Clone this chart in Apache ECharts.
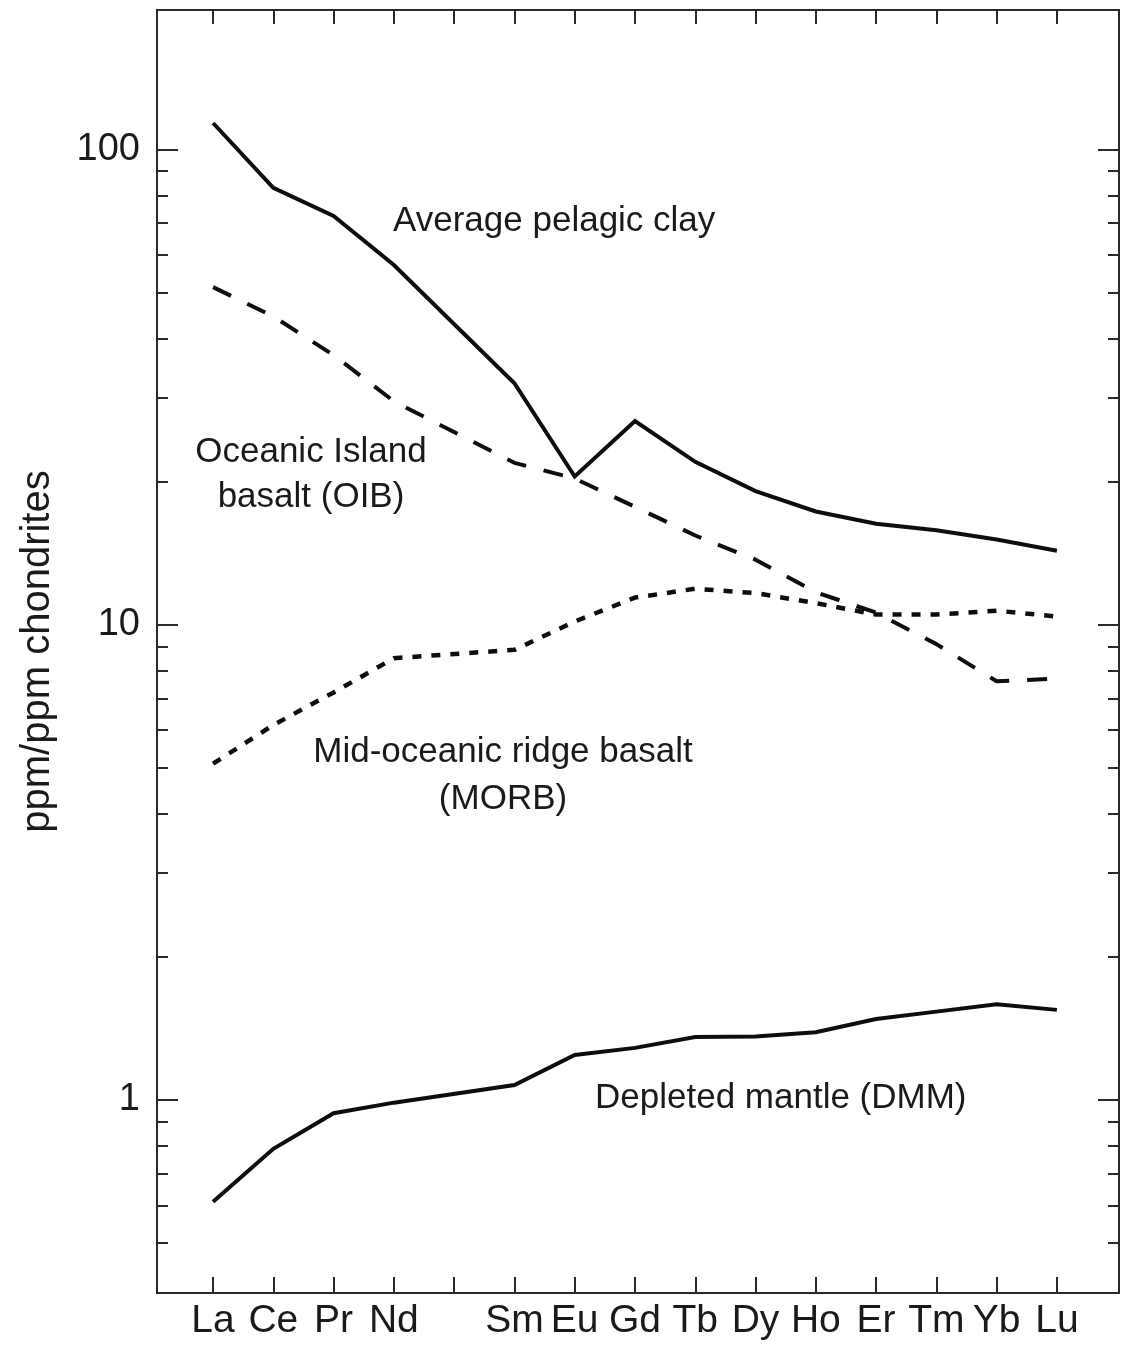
<!DOCTYPE html>
<html><head><meta charset="utf-8">
<script src="https://cdn.jsdelivr.net/npm/echarts@6/dist/echarts.min.js"></script>
<style>html,body{margin:0;padding:0;background:#fff}#c{width:1124px;height:1354px}</style>
</head><body><div id="c"></div>
<script>
// Chondrite-normalized REE patterns
const elements = ['La','Ce','Pr','Nd','Pm','Sm','Eu','Gd','Tb','Dy','Ho','Er','Tm','Yb','Lu'];
const pelagicClay = [113.6, 83.0, 72.4, 57.1, null, 32.2, 20.5, 26.8, 22.0, 19.1, 17.3, 16.3, 15.8, 15.1, 14.3];
const oib         = [51.3, 44.5, 36.9, 29.5, null, 21.9, 20.3, 17.7, 15.4, 13.7, 11.7, 10.6, 9.1, 7.6, 7.7];
const morb        = [5.1, 6.15, 7.2, 8.5, null, 8.85, 10.15, 11.4, 11.9, 11.65, 11.1, 10.5, 10.5, 10.7, 10.4];
const dmm         = [0.611, 0.789, 0.938, 0.987, null, 1.075, 1.243, 1.287, 1.357, 1.36, 1.388, 1.48, 1.534, 1.589, 1.547];
const yTickLabels = [1, 10, 100];
const yMinorTicks = [0.5, 0.6, 0.7, 0.8, 0.9, 2, 3, 4, 5, 6, 7, 8, 9, 20, 30, 40, 50, 60, 70, 80, 90];
const annotations = ['Average pelagic clay', 'Oceanic Island', 'basalt (OIB)', 'Mid-oceanic ridge basalt', '(MORB)', 'Depleted mantle (DMM)'];
const yTitle = 'ppm/ppm chondrites';

const FONT = "'Liberation Sans', Arial, Helvetica, sans-serif";
const INK = '#1a1a1a';
const FRAME = '#2a2a2a';

const toPoints = arr => arr.map((v, i) => [i + 1, v]).filter(p => p[1] != null);
const xTickValues = elements.map((e, i) => i + 1);
const xLabelValues = elements.map((e, i) => i + 1).filter(v => elements[v - 1] !== 'Pm');

const xMin = 0.07, xMax = 16.03;
const yMin = 0.3925, yMax = 196.4;

const chart = echarts.init(document.getElementById('c'), null, {renderer: 'canvas'});

const axisLine = {show: true, lineStyle: {color: FRAME, width: 2}};
const xBase = {type: 'value', min: xMin, max: xMax, splitLine: {show: false}, axisLine, minorTick: {show: false}};
const yBase = {type: 'log', logBase: 10, min: yMin, max: yMax, splitLine: {show: false}, axisLine, minorTick: {show: false}};
const tickStyle = {color: FRAME, width: 2};

const option = {
  animation: false,
  backgroundColor: '#fff',
  grid: {left: 157, top: 10, right: 5, bottom: 61, containLabel: false, outerBoundsMode: 'none'},
  xAxis: [
    Object.assign({}, xBase, {
      position: 'bottom',
      axisTick: {show: true, inside: true, length: 16, customValues: xTickValues, lineStyle: tickStyle},
      axisLabel: {show: true, customValues: xLabelValues, fontSize: 39, fontFamily: FONT, color: INK, margin: 9,
        formatter: v => elements[Math.round(v) - 1]}
    }),
    Object.assign({}, xBase, {
      position: 'top',
      axisTick: {show: true, inside: true, length: 14, customValues: xTickValues, lineStyle: tickStyle},
      axisLabel: {show: false}
    })
  ],
  yAxis: [
    Object.assign({}, yBase, {
      position: 'left',
      axisTick: {show: true, inside: true, length: 21, customValues: yTickLabels, lineStyle: tickStyle},
      axisLabel: {show: true, customValues: yTickLabels, fontSize: 38, fontFamily: FONT, color: INK, margin: 17,
        formatter: v => String(v)},
      name: yTitle, nameLocation: 'middle', nameRotate: 90, nameGap: 99,
      nameTextStyle: {fontSize: 40, fontFamily: FONT, color: INK}
    }),
    Object.assign({}, yBase, {
      position: 'left',
      axisTick: {show: true, inside: true, length: 11, customValues: yMinorTicks, lineStyle: tickStyle},
      axisLabel: {show: false}
    }),
    Object.assign({}, yBase, {
      position: 'right',
      axisTick: {show: true, inside: true, length: 21, customValues: yTickLabels, lineStyle: tickStyle},
      axisLabel: {show: false}
    }),
    Object.assign({}, yBase, {
      position: 'right',
      axisTick: {show: true, inside: true, length: 11, customValues: yMinorTicks, lineStyle: tickStyle},
      axisLabel: {show: false}
    })
  ],
  series: [
    {name: 'Average pelagic clay', type: 'line', data: toPoints(pelagicClay), symbol: 'none',
      lineStyle: {color: '#0d0d0d', width: 4, type: 'solid', cap: 'butt', join: 'miter'}},
    {name: 'Oceanic Island basalt (OIB)', type: 'line', data: toPoints(oib), symbol: 'none',
      lineStyle: {color: '#0d0d0d', width: 4, type: [20, 18], cap: 'butt'}},
    {name: 'Mid-oceanic ridge basalt (MORB)', type: 'line', data: toPoints(morb), symbol: 'none',
      lineStyle: {color: '#0d0d0d', width: 4.5, type: [9, 10], cap: 'butt'}},
    {name: 'Depleted mantle (DMM)', type: 'line', data: toPoints(dmm), symbol: 'none',
      lineStyle: {color: '#0d0d0d', width: 4, type: 'solid', cap: 'butt', join: 'miter'}}
  ],
  graphic: [
    {type: 'text', x: 393, y: 221, style: {text: annotations[0], font: '35px ' + FONT, fill: INK, align: 'left', verticalAlign: 'middle'}},
    {type: 'text', x: 311, y: 452, style: {text: annotations[1], font: '35px ' + FONT, fill: INK, align: 'center', verticalAlign: 'middle'}},
    {type: 'text', x: 311, y: 497, style: {text: annotations[2], font: '35px ' + FONT, fill: INK, align: 'center', verticalAlign: 'middle'}},
    {type: 'text', x: 503, y: 752, style: {text: annotations[3], font: '35px ' + FONT, fill: INK, align: 'center', verticalAlign: 'middle'}},
    {type: 'text', x: 503, y: 799, style: {text: annotations[4], font: '35px ' + FONT, fill: INK, align: 'center', verticalAlign: 'middle'}},
    {type: 'text', x: 595, y: 1098, style: {text: annotations[5], font: '35px ' + FONT, fill: INK, align: 'left', verticalAlign: 'middle'}}
  ]
};
chart.setOption(option);
</script>
</body></html>
